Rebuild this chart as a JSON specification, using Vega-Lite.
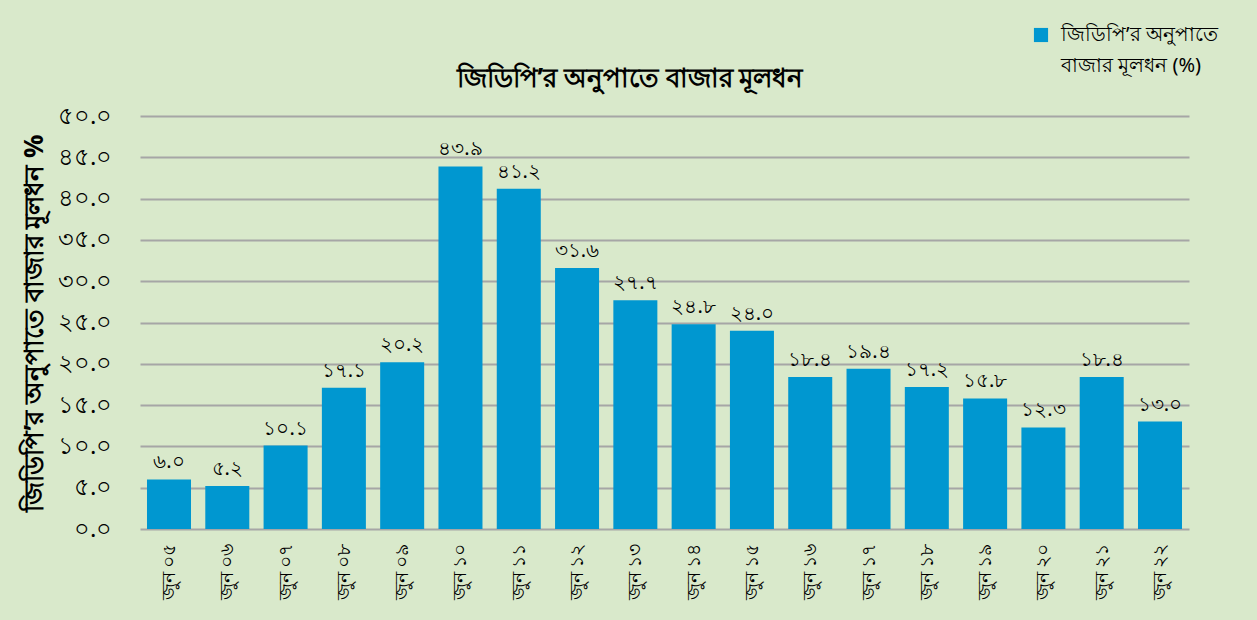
{
  "$schema": "https://vega.github.io/schema/vega-lite/v6.json",
  "autosize": {"type": "none"},
  "width": 1088,
  "height": 413,
  "padding": {"left": 140, "top": 116, "right": 29, "bottom": 91},
  "background": "#d9e9cb",
  "title": {
    "text": "জিডিপি’র অনুপাতে বাজার মূলধন",
    "fontSize": 26,
    "fontWeight": "bold",
    "font": "Noto Sans",
    "color": "#000000",
    "anchor": "middle",
    "dx": -54,
    "offset": -67
  },
  "config": {
    "view": {"stroke": null},
    "font": "Noto Sans"
  },
  "data": {
    "values": [
      {"period": "জুন ০৫", "value": 6.0, "label": "৬.০", "series": "s"},
      {"period": "জুন ০৬", "value": 5.2, "label": "৫.২", "series": "s"},
      {"period": "জুন ০৭", "value": 10.1, "label": "১০.১", "series": "s"},
      {"period": "জুন ০৮", "value": 17.1, "label": "১৭.১", "series": "s"},
      {"period": "জুন ০৯", "value": 20.2, "label": "২০.২", "series": "s"},
      {"period": "জুন ১০", "value": 43.9, "label": "৪৩.৯", "series": "s"},
      {"period": "জুন ১১", "value": 41.2, "label": "৪১.২", "series": "s"},
      {"period": "জুন ১২", "value": 31.6, "label": "৩১.৬", "series": "s"},
      {"period": "জুন ১৩", "value": 27.7, "label": "২৭.৭", "series": "s"},
      {"period": "জুন ১৪", "value": 24.8, "label": "২৪.৮", "series": "s"},
      {"period": "জুন ১৫", "value": 24.0, "label": "২৪.০", "series": "s"},
      {"period": "জুন ১৬", "value": 18.4, "label": "১৮.৪", "series": "s"},
      {"period": "জুন ১৭", "value": 19.4, "label": "১৯.৪", "series": "s"},
      {"period": "জুন ১৮", "value": 17.2, "label": "১৭.২", "series": "s"},
      {"period": "জুন ১৯", "value": 15.8, "label": "১৫.৮", "series": "s"},
      {"period": "জুন ২০", "value": 12.3, "label": "১২.৩", "series": "s"},
      {"period": "জুন ২১", "value": 18.4, "label": "১৮.৪", "series": "s"},
      {"period": "জুন ২২", "value": 13.0, "label": "১৩.০", "series": "s"}
    ]
  },
  "encoding": {
    "x": {
      "field": "period",
      "type": "nominal",
      "sort": null,
      "scale": {"range": [0, 1049], "paddingInner": 0.245, "paddingOuter": 0.12},
      "axis": {
        "title": null,
        "labelAngle": -90,
        "labelFontSize": 19,
        "labelColor": "#000000",
        "labelPadding": 14,
        "ticks": false,
        "domain": false
      }
    },
    "y": {
      "field": "value",
      "type": "quantitative",
      "scale": {"domain": [0, 50]},
      "axis": {
        "title": "জিডিপি’র অনুপাতে বাজার মূলধন %",
        "titleFontSize": 26,
        "titleFontWeight": "bold",
        "titleColor": "#000000",
        "titlePadding": 10,
        "values": [0, 5, 10, 15, 20, 25, 30, 35, 40, 45, 50],
        "labelExpr": "['০.০','৫.০','১০.০','১৫.০','২০.০','২৫.০','৩০.০','৩৫.০','৪০.০','৪৫.০','৫০.০'][round(datum.value/5)]",
        "labelFontSize": 24,
        "labelColor": "#000000",
        "labelPadding": 28,
        "ticks": false,
        "domain": false,
        "grid": true,
        "gridColor": "#a6a6a6",
        "gridWidth": 2
      }
    }
  },
  "layer": [
    {
      "mark": {"type": "bar", "color": "#0097d0"},
      "encoding": {
        "color": {
          "field": "series",
          "type": "nominal",
          "scale": {"range": ["#0097d0"]},
          "legend": {
            "title": null,
            "orient": "none",
            "legendX": 891,
            "legendY": -91,
            "symbolType": "square",
            "symbolSize": 200,
            "symbolOpacity": 1,
            "labelFontSize": 20,
            "labelColor": "#000000",
            "labelLimit": 400,
            "labelOffset": 10,
            "labelBaseline": "top",
            "labelExpr": "['জিডিপি’র অনুপাতে', 'বাজার মূলধন (%)']",
            "encode": {
              "labels": {"update": {"lineHeight": {"value": 31}, "dy": {"value": -10}}}
            }
          }
        }
      }
    },
    {
      "mark": {"type": "text", "baseline": "bottom", "dy": -7, "fontSize": 20, "color": "#000000"},
      "encoding": {"text": {"field": "label"}}
    }
  ]
}
